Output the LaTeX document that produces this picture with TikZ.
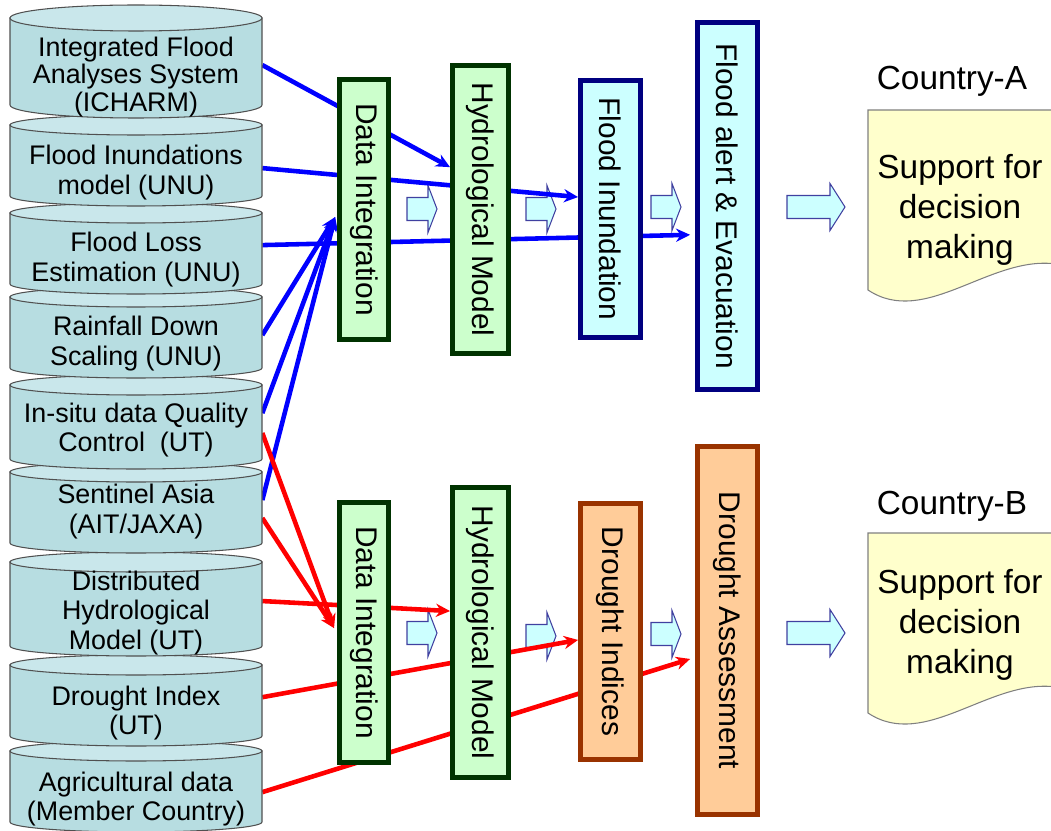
\documentclass[tikz,border=0pt]{standalone}
\usepackage{fontspec}
\setmainfont{Liberation Sans}
\usepackage{graphicx}
\usetikzlibrary{arrows.meta,backgrounds}

\definecolor{drumfill}{HTML}{B7DDE1}
\definecolor{drumtopfill}{HTML}{C9E7EB}
\definecolor{drumedge}{HTML}{505050}
\definecolor{boxgreen}{HTML}{CCFFCC}
\definecolor{edgegreen}{HTML}{003300}
\definecolor{boxcyan}{HTML}{CCFFFF}
\definecolor{edgenavy}{HTML}{000080}
\definecolor{boxorange}{HTML}{FFCC99}
\definecolor{edgebrown}{HTML}{993300}
\definecolor{arrowedge}{HTML}{4040A0}
\definecolor{docfill}{HTML}{FFFFCC}
\definecolor{docedge}{HTML}{808080}

% one drum of the stack: lid centre, bottom edge, lid radius
\newcommand{\drum}[3]{%
  \filldraw[drumbody] (10,#1) -- (10,#2) .. controls (10,#2+0.552*#3) and (66.4,#2+#3) .. (136,#2+#3)
    .. controls (205.6,#2+#3) and (262,#2+0.552*#3) .. (262,#2) -- (262,#1) -- cycle;
  \filldraw[drumlid] (136,#1) ellipse (126 and #3);}

\begin{document}
\begin{tikzpicture}[x=0.02cm, y=-0.02cm,
    drumbody/.style={draw=drumedge, fill=drumfill, line width=0.6pt},
    drumlid/.style={draw=drumedge, fill=drumtopfill, line width=0.6pt},
    drumtext/.style={minimum width=5.04cm, inner sep=0pt, align=center, font=\fontsize{15.3}{17}\selectfont},
    stagebox/.style={line width=2.8pt, inner sep=0pt, font=\fontsize{17}{20}\selectfont},
    greenstage/.style={stagebox, draw=edgegreen, fill=boxgreen},
    bluestage/.style={stagebox, draw=edgenavy, fill=boxcyan},
    orangestage/.style={stagebox, draw=edgebrown, fill=boxorange},
    blockarrow/.style={draw=arrowedge, fill=boxcyan, line width=0.6pt},
    docshape/.style={draw=docedge, fill=docfill, line width=0.6pt},
    bigtext/.style={align=center, font=\fontsize{19}{22.7}\selectfont},
    floodline/.style={draw=blue, line width=2.6pt, -{Stealth[length=8pt,width=7.5pt]}},
    droughtline/.style={floodline, draw=red}]
    \useasboundingbox (0,0) rectangle (1051,831);
    \clip (0,0) rectangle (1051,831);

    % data sources
    \foreach \t/\b/\r in {751/822/10, 665/736/10, 562/646/10, 472/543/10, 385/459/10,
                          297/368/10, 213/284/10, 125/196/10, 18/105/13}
        \drum{\t}{\b}{\r};
    \node[drumtext, font=\fontsize{15.3}{15.6}\selectfont] (icharm) at (136,77) {Integrated Flood\\Analyses System\\(ICHARM)};
    \node[drumtext] (inundmodel) at (136,172.5) {Flood Inundations\\model (UNU)};
    \node[drumtext] (lossest) at (136,259.5) {Flood Loss\\Estimation (UNU)};
    \node[drumtext] (rainfall) at (136,343.5) {Rainfall Down\\Scaling (UNU)};
    \node[drumtext] (insitu) at (136,430) {In-situ data Quality\\Control~~(UT)};
    \node[drumtext] (sentinel) at (136,511.5) {Sentinel Asia\\(AIT/JAXA)};
    \node[drumtext] (distrib) at (136,613) {Distributed\\Hydrological\\Model (UT)};
    \node[drumtext] (droughtidx) at (136,713) {Drought Index\\(UT)};
    \node[drumtext] (agri) at (136,799) {Agricultural data\\(Member Country)};

    % processing stages
    \node[greenstage, minimum width=0.98cm, minimum height=5.2cm] (dataA) at (364,209.5) {\rotatebox{-90}{Data Integration}};
    \node[greenstage, minimum width=1.12cm, minimum height=5.76cm] (hydroA) at (480.5,209.5) {\rotatebox{-90}{Hydrological Model}};
    \node[bluestage, minimum width=1.2cm, minimum height=5.14cm] (inundation) at (610.5,209) {\rotatebox{-90}{Flood Inundation}};
    \node[bluestage, minimum width=1.2cm, minimum height=7.34cm] (alert) at (727.5,206) {\rotatebox{-90}{Flood alert \& Evacuation}};
    \node[greenstage, minimum width=0.98cm, minimum height=5.2cm] (dataB) at (364,632.5) {\rotatebox{-90}{Data Integration}};
    \node[greenstage, minimum width=1.12cm, minimum height=5.8cm] (hydroB) at (480.5,632.5) {\rotatebox{-90}{Hydrological Model}};
    \node[orangestage, minimum width=1.2cm, minimum height=5.12cm] (indices) at (610.5,631.5) {\rotatebox{-90}{Drought Indices}};
    \node[orangestage, minimum width=1.2cm, minimum height=7.36cm] (assess) at (727.5,630.5) {\rotatebox{-90}{Drought Assessment}};

    % countries
    \foreach \dy in {0,423}
        \filldraw[docshape] (868,110+\dy) -- (1056,110+\dy) -- (1056,264+\dy)
            .. controls (990,255+\dy) and (925,328+\dy) .. (868,290+\dy) -- cycle;
    \node[bigtext] (countryA) at (952,81) {Country-A};
    \node[bigtext] (supportA) at (960,210) {Support for\\decision\\making};
    \node[bigtext] (countryB) at (952,506) {Country-B};
    \node[bigtext] (supportB) at (960,625) {Support for\\decision\\making};

    \begin{pgfonlayer}{background}
        \foreach \x/\y in {407/209, 526/209, 651/207, 407/633, 526/636, 651/634}
            \filldraw[blockarrow] (\x,\y-11.5) -- ++(21,0) -- ++(0,-12) -- ++(9,23.5)
                -- ++(-9,23.5) -- ++(0,-12) -- ++(-21,0) -- cycle;
        \foreach \y in {207,633}
            \filldraw[blockarrow] (787,\y-11.5) -- ++(43,0) -- ++(0,-12) -- ++(15,23.5)
                -- ++(-15,23.5) -- ++(0,-12) -- ++(-43,0) -- cycle;

        % flood chain
        \draw[floodline] ([yshift=6.8pt]icharm.east) -- ([yshift=24.1pt]hydroA.west);
        \draw[floodline] ([yshift=2.5pt]inundmodel.east) -- ([yshift=6.8pt]inundation.west);
        \draw[floodline] ([yshift=8.2pt]lossest.east) -- ([xshift=-2.8pt,yshift=-16.4pt]alert.west);
        \draw[floodline] ([yshift=4.8pt]rainfall.east) -- ([xshift=-1.1pt,yshift=-4.3pt]dataA.west);
        \draw[floodline] ([yshift=9.6pt]insitu.east) -- ([xshift=-1.1pt,yshift=-4.3pt]dataA.west);
        \draw[floodline] ([yshift=6.5pt]sentinel.east) -- ([xshift=-1.1pt,yshift=-4.3pt]dataA.west);

        % drought chain
        \draw[droughtline] ([yshift=-1.7pt]insitu.east) -- ([xshift=-1.7pt,yshift=2.5pt]dataB.west);
        \draw[droughtline] ([yshift=-3.7pt]sentinel.east) -- ([xshift=-1.7pt,yshift=2.5pt]dataB.west);
        \draw[droughtline] ([yshift=6.8pt]distrib.east) -- ([yshift=12.2pt]hydroB.west);
        \draw[droughtline] ([yshift=9pt]droughtidx.east) -- ([yshift=-4.8pt]indices.west);
        \draw[droughtline] ([yshift=3.9pt]agri.east) -- ([xshift=-2.8pt,yshift=-16.2pt]assess.west);
    \end{pgfonlayer}
\end{tikzpicture}
\end{document}
